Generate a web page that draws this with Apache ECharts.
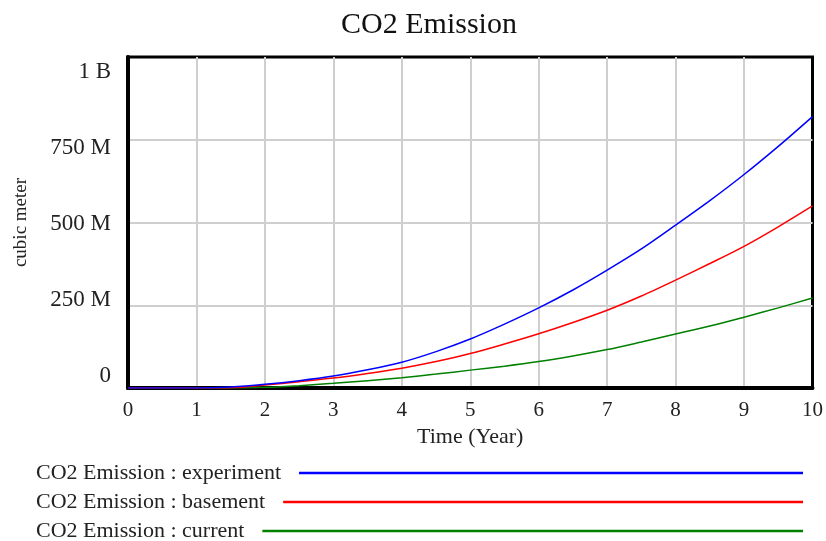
<!DOCTYPE html>
<html>
<head>
<meta charset="utf-8">
<script src="https://cdn.jsdelivr.net/npm/echarts@6/dist/echarts.min.js"></script>
<style>html,body{margin:0;padding:0;background:#fff;}#c{width:826px;height:541px;}</style>
</head>
<body>
<div id="c"></div>
<script>
// ---- data ----
const years = [0,0.5,1,1.5,2,2.5,3,3.5,4,4.5,5,5.5,6,6.5,7,7.5,8,8.5,9,9.5,10];
const experiment = [0,0,0,3,11,22,36,55,78,110,148,193,242,296,356,420,492,566,645,730,820]; // millions
const basement   = [0,0,0,1,9,19,30,44,60,80,104,133,164,198,235,278,326,376,428,487,550];
const current    = [0,0,0,0,2,7,14,22,31,42,54,66,80,97,116,139,163,187,214,242,272];
const seriesNames = ['CO2 Emission : experiment','CO2 Emission : basement','CO2 Emission : current'];
const yTickValues = [0,250e6,500e6,750e6,1e9];
const yTickLabels = ['0','250 M','500 M','750 M','1 B'];
const xTicks = [0,1,2,3,4,5,6,7,8,9,10];

const FONT = '"Liberation Serif","Times New Roman",serif';
const colors = ['#0000ff','#ff0000','#008000'];
const allData = [experiment, basement, current];

const ctx = document.createElement('canvas').getContext('2d');
function tw(t, size){ ctx.font = size + 'px "Liberation Serif"'; return ctx.measureText(t).width; }

const titleText = 'CO2 Emission';
const titleSize = 30;
const titleW = tw(titleText, titleSize);

const legendCenters = [473, 502, 531];
const legends = seriesNames.map((n, i) => {
  const w = tw(n, 22);
  return {
    show: true, left: 36, top: legendCenters[i] - 11, padding: 0,
    align: 'right', orient: 'horizontal', selectedMode: false,
    icon: 'rect', itemHeight: 2.5, itemWidth: Math.max(10, 803 - 36 - w - 18),
    textStyle: {fontFamily: FONT, fontSize: 22, color: '#222', lineHeight: 22, padding: [0, 13, 0, 0]},
    data: [n]
  };
});

const chart = echarts.init(document.getElementById('c'), null, {renderer: 'canvas'});
chart.setOption({
  animation: false,
  backgroundColor: '#fff',
  title: {
    text: titleText, left: 429 - titleW / 2, top: 10, padding: 0,
    textStyle: {fontFamily: FONT, fontSize: titleSize, fontWeight: 'normal', color: '#111', lineHeight: 30}
  },
  legend: legends,
  grid: {left: 128, right: 9, top: 57, bottom: 153, show: true, borderColor: '#000', borderWidth: 3, containLabel: false},
  xAxis: {
    type: 'value', min: 0, max: 10, interval: 1,
    name: 'Time (Year)', nameLocation: 'middle', nameGap: 38,
    nameTextStyle: {fontFamily: FONT, fontSize: 22, color: '#222'},
    axisLine: {show: true, onZero: false, lineStyle: {color: '#000', width: 4}},
    axisTick: {show: false},
    axisLabel: {fontFamily: FONT, fontSize: 21, color: '#222', margin: 12,
      customValues: xTicks, formatter: v => String(v)},
    splitLine: {show: true, showMinLine: false, showMaxLine: false, lineStyle: {color: '#cfcfcf', width: 2}}
  },
  yAxis: [{
    type: 'value', min: 0, max: 1e9, interval: 250e6, position: 'left',
    name: 'cubic meter', nameLocation: 'middle', nameGap: 97, nameRotate: 90,
    nameTextStyle: {fontFamily: FONT, fontSize: 19, color: '#222'},
    axisLine: {show: true, onZero: false, lineStyle: {color: '#000', width: 4}},
    axisTick: {show: false},
    axisLabel: {show: false},
    splitLine: {show: true, showMinLine: false, showMaxLine: false, lineStyle: {color: '#cfcfcf', width: 2}}
  }, {
    type: 'value', min: -41.1e6, max: 1047.7e6, position: 'left', offset: 0,
    axisLine: {show: false}, axisTick: {show: false}, splitLine: {show: false},
    axisLabel: {fontFamily: FONT, fontSize: 23, color: '#222', margin: 17,
      customValues: yTickValues,
      formatter: v => { const i = yTickValues.findIndex(t => Math.abs(t - v) < 1); return i >= 0 ? yTickLabels[i] : ''; }}
  }],
  series: seriesNames.map((n, i) => ({
    name: n, type: 'line', yAxisIndex: 0, showSymbol: false, symbol: 'none', smooth: 0.3,
    color: colors[i], lineStyle: {color: colors[i], width: 1.5}, z: 3 - i,
    data: years.map((x, k) => [x, allData[i][k] * 1e6])
  }))
});
</script>
</body>
</html>
